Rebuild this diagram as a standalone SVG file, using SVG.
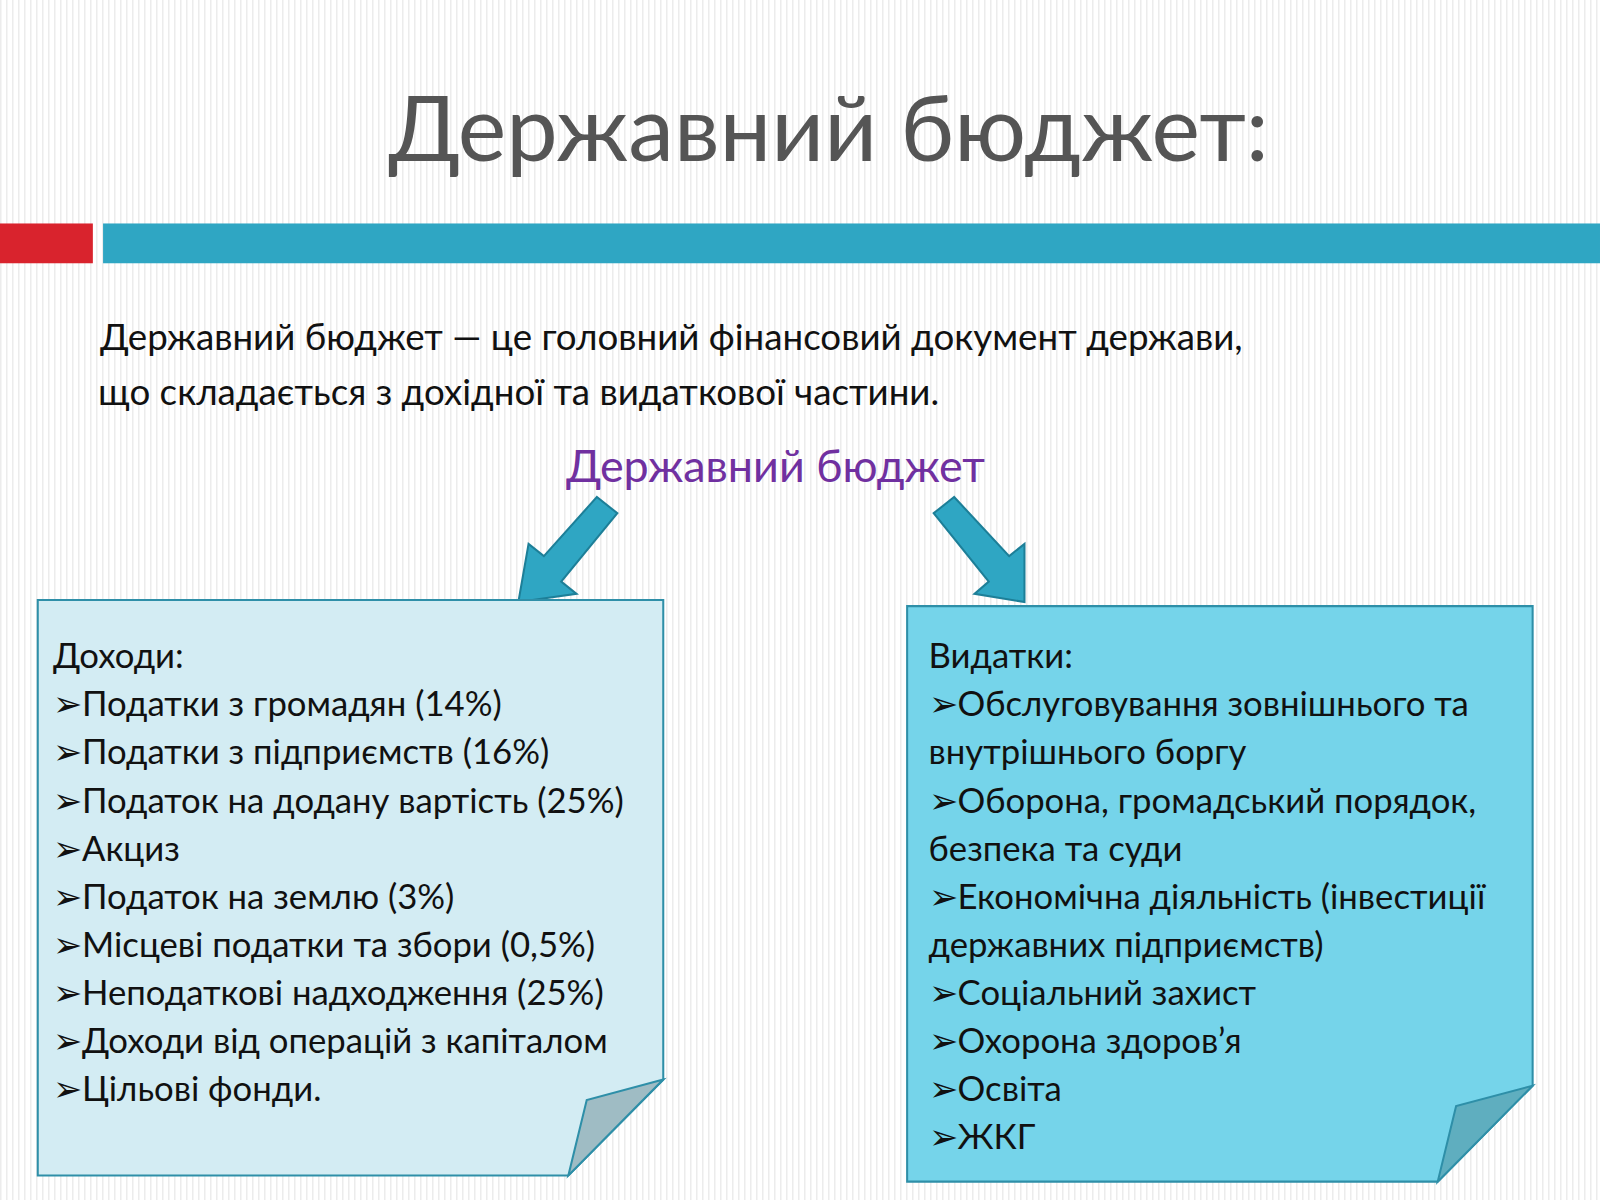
<svg xmlns="http://www.w3.org/2000/svg" width="1600" height="1200" viewBox="0 0 1600 1200">
<defs>
<pattern id="stripes" width="6" height="10" patternUnits="userSpaceOnUse"><rect width="6" height="10" fill="#ffffff"/><rect x="0" width="1.5" height="10" fill="#ececec"/></pattern>
<style>
.t{font-family:"Lato","Open Sans",sans-serif;}
.box{font-family:"Lato","Open Sans",sans-serif;font-size:34px;fill:#111;}
.arr{fill:#2fa6c3;stroke:#1d7f98;stroke-width:2;}
</style>
</defs>
<rect width="1600" height="1200" fill="url(#stripes)"/>
<g transform="scale(1.0204)">
<text class="t" x="812" y="158" font-size="90" fill="#555" text-anchor="middle">Державний бюджет:</text>
<rect x="0" y="219" width="91" height="39" fill="#d9232d"/>
<rect x="101" y="219" width="1467" height="39" fill="#2fa6c3"/>
<text class="t" font-size="36" fill="#111"><tspan x="98" y="343">Державний бюджет — це головний фінансовий документ держави,</tspan><tspan x="96" y="397">що складається з дохідної та видаткової частини.</tspan></text>
<text class="t" x="760" y="472" font-size="44" fill="#7030a0" text-anchor="middle">Державний бюджет</text>
<g id="connectors">
<polygon class="arr" points="585,487 605,503 550,570 565,582 508,590 518,533 533,545"/>
<polygon class="arr" points="935,487 915,503 969,570 955,582 1004,590 1004,533 989,545"/>
</g>
<g id="income">
<polygon points="37,588 650,588 650,1058 557,1152 37,1152" fill="#d3ecf3" stroke="#2e8fa8" stroke-width="2"/>
<polygon points="650,1058 575,1078 557,1152" fill="#9fbcc4" stroke="#2e8fa8" stroke-width="2"/>
<text class="box"><tspan x="52" y="655">Доходи:</tspan><tspan x="52" y="702">➢Податки з громадян (14%)</tspan><tspan x="52" y="749">➢Податки з підприємств (16%)</tspan><tspan x="52" y="797">➢Податок на додану вартість (25%)</tspan><tspan x="52" y="844">➢Акциз</tspan><tspan x="52" y="891">➢Податок на землю (3%)</tspan><tspan x="52" y="938">➢Місцеві податки та збори (0,5%)</tspan><tspan x="52" y="985">➢Неподаткові надходження (25%)</tspan><tspan x="52" y="1032">➢Доходи від операцій з капіталом</tspan><tspan x="52" y="1079">➢Цільові фонди.</tspan></text>
</g>
<g id="expenses">
<polygon points="889,594 1502,594 1502,1064 1409,1158 889,1158" fill="#75d4ea" stroke="#2e8fa8" stroke-width="2"/>
<polygon points="1502,1064 1427,1084 1409,1158" fill="#5faebf" stroke="#2e8fa8" stroke-width="2"/>
<text class="box"><tspan x="910" y="655">Видатки:</tspan><tspan x="910" y="702">➢Обслуговування зовнішнього та</tspan><tspan x="910" y="749">внутрішнього боргу</tspan><tspan x="910" y="797">➢Оборона, громадський порядок,</tspan><tspan x="910" y="844">безпека та суди</tspan><tspan x="910" y="891">➢Економічна діяльність (інвестиції</tspan><tspan x="910" y="938">державних підприємств)</tspan><tspan x="910" y="985">➢Соціальний захист</tspan><tspan x="910" y="1032">➢Охорона здоров’я</tspan><tspan x="910" y="1079">➢Освіта</tspan><tspan x="910" y="1126">➢ЖКГ</tspan></text>
</g>
</g>
</svg>
